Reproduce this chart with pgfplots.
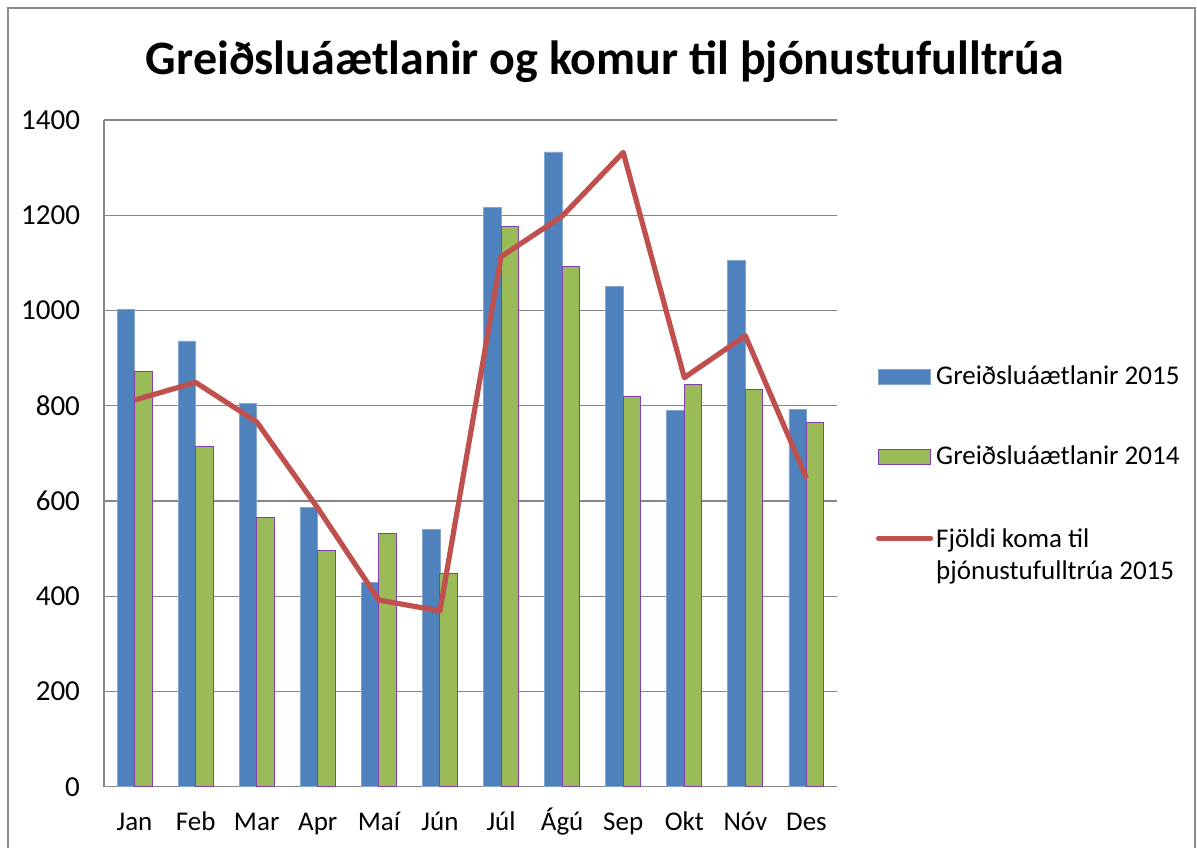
\documentclass[border=0pt]{standalone}
\usepackage{pgfplots}
\pgfplotsset{compat=1.18}
\usepackage{fontspec}
\setmainfont{Carlito}
\definecolor{xblue}{HTML}{4F81BD}
\definecolor{xgreen}{HTML}{9BBB59}
\definecolor{xred}{HTML}{C0504D}
\definecolor{xgrid}{HTML}{868686}
\definecolor{xpurple}{HTML}{7F3FB0}
\pgfplotsset{
  barleg/.style={legend image code/.code={\draw[##1] (0pt,-3.75pt) rectangle (26pt,3.75pt);}},
  lineleg/.style={legend image code/.code={\draw[##1, line cap=round] (0pt,0pt) -- (26pt,0pt);}},
}
\begin{document}
\begin{tikzpicture}
\useasboundingbox (0,0) rectangle (598.5pt,424pt);
\draw[color=black!45, line width=1pt] (4pt,0) -- (4pt,420pt) -- (597.5pt,420pt) -- (597.5pt,0);
\node[font=\fontsize{24}{28}\selectfont\bfseries, anchor=center] at (302.5pt,393pt) {Greiðsluáætlanir og komur til þjónustufulltrúa};
\begin{axis}[
  at={(52pt,30.65pt)}, anchor=south west, scale only axis,
  width=366.5pt, height=333.35pt,
  ymin=0, ymax=1400, ytick={0,200,...,1400},
  xmin=-0.5, xmax=11.5, xtick={0,...,11},
  xticklabels={Jan,Feb,Mar,Apr,Maí,Jún,Júl,Ágú,Sep,Okt,Nóv,Des},
  ymajorgrids, grid style={xgrid, line width=0.6pt},
  axis x line=bottom, axis y line=left,
  axis line style={-, xgrid, line width=0.6pt},
  major tick length=0pt,
  xticklabel style={font=\fontsize{13.5}{16}\selectfont, anchor=base, yshift=-22pt},
  yticklabel style={font=\fontsize{14.5}{17}\selectfont, anchor=east, xshift=-8.5pt},
  /pgf/number format/assume math mode=true,
  /pgf/number format/1000 sep={},
  legend style={at={(1.0445,0.642)}, anchor=north west, draw=none, fill=none,
    font=\fontsize{13.5}{16}\selectfont, row sep=26pt,
    nodes={inner sep=1.5pt}},
  legend cell align=left,
]
\addplot[ybar, bar width=8.75pt, bar shift=-4.375pt, fill=xblue, draw=xblue!70!white, line width=0.4pt, barleg]
coordinates {(0,1003) (1,936) (2,804) (3,586) (4,429) (5,540) (6,1217) (7,1333) (8,1050) (9,791) (10,1106) (11,793)};
\addlegendentry{Greiðsluáætlanir 2015}
\addplot[ybar, bar width=8.75pt, bar shift=4.375pt, fill=xgreen, draw=xpurple, line width=0.5pt, barleg]
coordinates {(0,871) (1,714) (2,566) (3,495) (4,531) (5,447) (6,1177) (7,1092) (8,820) (9,844) (10,835) (11,765)};
\addlegendentry{Greiðsluáætlanir 2014}
\addplot[sharp plot, xred, line width=2.6pt, line join=round, mark=none, lineleg]
coordinates {(0,812) (1,849) (2,766) (3,585) (4,392) (5,369) (6,1113) (7,1198) (8,1332) (9,859) (10,947) (11,648)};
\addlegendentry{\begin{tabular}[t]{@{}l@{}}Fjöldi koma til\\þjónustufulltrúa 2015\end{tabular}}
\end{axis}
\end{tikzpicture}
\end{document}
